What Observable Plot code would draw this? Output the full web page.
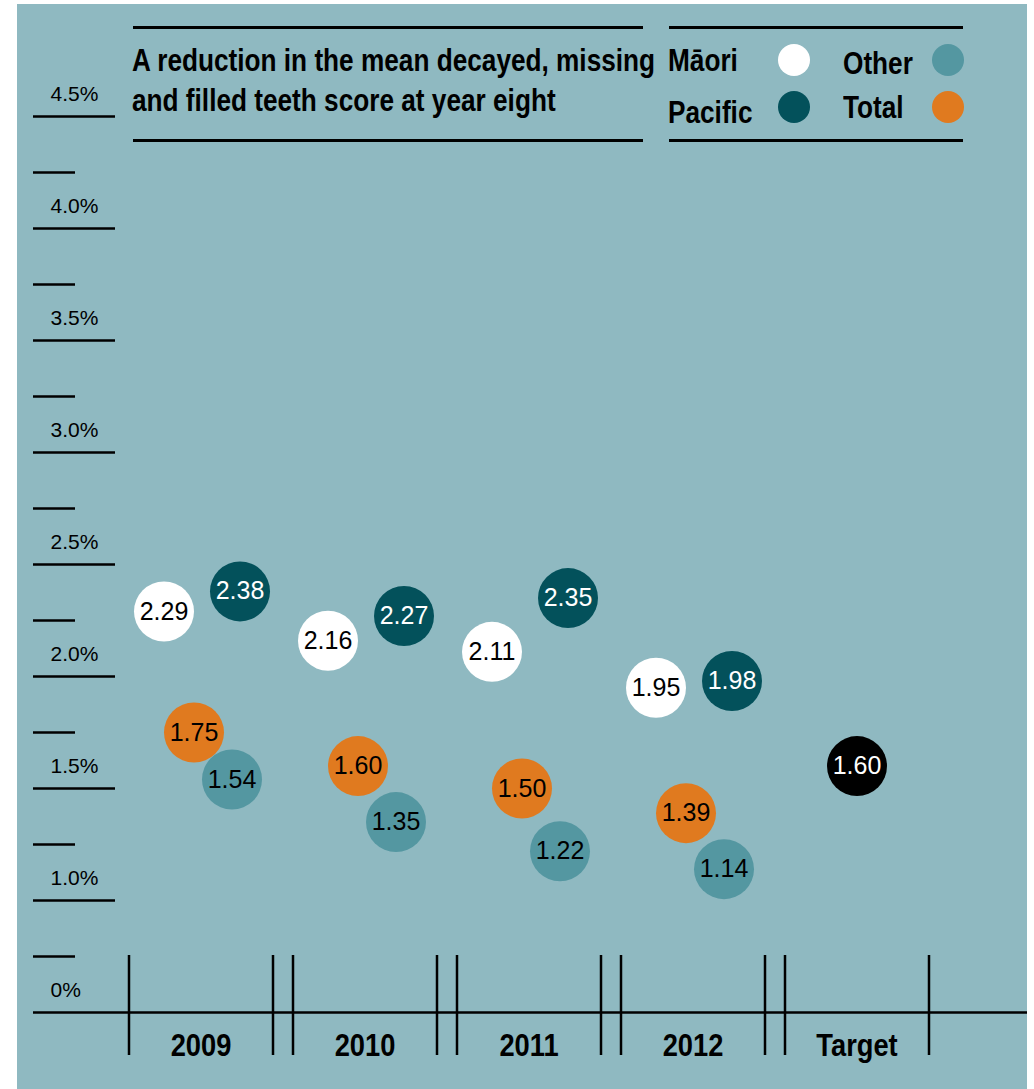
<!DOCTYPE html>
<html>
<head>
<meta charset="utf-8">
<script src="https://cdn.jsdelivr.net/npm/d3@7"></script>
<script src="https://cdn.jsdelivr.net/npm/@observablehq/plot@0.6"></script>
<style>
  html, body { margin: 0; padding: 0; background: #ffffff; }
  #panel { position: absolute; left: 17px; top: 4px; width: 1010px; height: 1085px; background: #8fb9c1; overflow: hidden;
           font-family: "Liberation Sans", Arial, sans-serif; }
  #chart { position: absolute; left: 0; top: 0; }
  .rule { position: absolute; height: 3px; background: #000; }
  #title { position: absolute; left: 115px; top: 37px; font-size: 31px; font-weight: bold; line-height: 40px; color: #000;
           white-space: nowrap; transform: scaleX(0.845); transform-origin: left top; }
  .lg { position: absolute; font-size: 31px; font-weight: bold; color: #000; line-height: 30px; white-space: nowrap;
        transform: scaleX(0.845); transform-origin: left top; }
  .ld { position: absolute; width: 32px; height: 32px; border-radius: 50%; }
</style>
</head>
<body>
<div id="panel">
  <div id="chart"></div>
  <div class="rule" style="left:116px; top:22px; width:510px;"></div>
  <div class="rule" style="left:116px; top:135px; width:510px;"></div>
  <div id="title">A reduction in the mean decayed, missing<br>and filled teeth score at year eight</div>
  <div class="rule" style="left:652px; top:22px; width:294px;"></div>
  <div class="rule" style="left:652px; top:135px; width:294px;"></div>
  <div id="legend"></div>
</div>
<script>
// ---- data ----
const periods = ["2009", "2010", "2011", "2012"];
const categories = ["2009", "2010", "2011", "2012", "Target"];
const maori   = [2.29, 2.16, 2.11, 1.95];
const pacific = [2.38, 2.27, 2.35, 1.98];
const other   = [1.54, 1.35, 1.22, 1.14];
const total   = [1.75, 1.60, 1.50, 1.39];
const targetValue = [1.60];
const yTickValues = [4.5, 4.0, 3.5, 3.0, 2.5, 2.0, 1.5, 1.0, 0.5];
const yTickLabels = ["4.5%", "4.0%", "3.5%", "3.0%", "2.5%", "2.0%", "1.5%", "1.0%", "0%"];
const seriesNames = ["Māori", "Pacific", "Other", "Total"];

// ---- styles ----
const FONT = '"Liberation Sans", Arial, sans-serif';
const seriesStyle = {
  "Māori":   {fill: "#ffffff", text: "#000000", dx: -37},
  "Pacific": {fill: "#03515b", text: "#ffffff", dx: 39},
  "Other":   {fill: "#5497a1", text: "#000000", dx: 31},
  "Total":   {fill: "#e07a1f", text: "#000000", dx: -7}
};
const seriesValues = {"Māori": maori, "Pacific": pacific, "Other": other, "Total": total};

const rows = periods.flatMap((p, i) => seriesNames.map(s => ({period: p, series: s, value: seriesValues[s][i]})));
const targetRows = targetValue.map(v => ({period: "Target", series: "Target", value: v}));

const W = 1010, H = 1085;
const R = 30;

const seriesMarks = seriesNames.flatMap(s => {
  const st = seriesStyle[s];
  const data = rows.filter(d => d.series === s);
  return [
    Plot.dot(data, {x: "period", y: "value", r: R, fill: st.fill, stroke: null, dx: st.dx}),
    Plot.text(data, {x: "period", y: "value", text: d => d.value.toFixed(2), fill: st.text, dx: st.dx, fontSize: 25, ariaLabel: "dot-label"})
  ];
});

const minorTicks = yTickValues.slice(1).map(v => v + 0.25);

const chart = Plot.plot({
  width: W,
  height: H,
  marginLeft: 110,
  marginRight: 97,
  marginTop: 0,
  marginBottom: 77,
  style: {fontFamily: FONT, background: "transparent", color: "#000", overflow: "visible"},
  x: {type: "band", domain: categories, paddingInner: 0.127, paddingOuter: 0, align: 0.5},
  y: {domain: [0.5, 5.0], axis: null},
  marks: [
    Plot.ruleY(yTickValues.slice(0, -1), {stroke: "#000", strokeWidth: 2.7, insetLeft: -94, insetRight: 815}),
    Plot.ruleY(minorTicks, {stroke: "#000", strokeWidth: 2.7, insetLeft: -94, insetRight: 855}),
    Plot.ruleY([0.5], {stroke: "#000", strokeWidth: 2.7, insetLeft: -94, insetRight: -97}),
    Plot.text(yTickValues, {y: d => d, text: (d, i) => yTickLabels[i], frameAnchor: "left", dx: -77, dy: -22, textAnchor: "start", fontSize: 21, fill: "#000"}),
    Plot.ruleX(categories, {x: d => d, dx: -72, stroke: "#000", strokeWidth: 2.5, insetTop: 951, insetBottom: -43}),
    Plot.ruleX(categories, {x: d => d, dx: 72, stroke: "#000", strokeWidth: 2.5, insetTop: 951, insetBottom: -43}),
    Plot.axisX({tickSize: 0, tickPadding: 21, fontSize: 31, fontWeight: "bold", label: null}),
    ...seriesMarks,
    Plot.dot(targetRows, {x: "period", y: "value", r: R, fill: "#000000"}),
    Plot.text(targetRows, {x: "period", y: "value", text: d => d.value.toFixed(2), fill: "#ffffff", fontSize: 25, ariaLabel: "dot-label"})
  ]
});

// condensed look: horizontally squeeze selected labels about their anchor
function condense(selection, s) {
  selection.each(function () {
    const t = d3.select(this);
    const tr = t.attr("transform");
    if (tr) {
      t.attr("transform", tr + ` scale(${s},1)`);
    } else {
      const x = +t.attr("x") || 0, y = +t.attr("y") || 0;
      t.attr("x", null).attr("y", null).attr("transform", `translate(${x},${y}) scale(${s},1)`);
    }
  });
}
condense(d3.select(chart).selectAll('g[aria-label="dot-label"] text'), 0.88);
condense(d3.select(chart).selectAll('g[aria-label="x-axis tick label"] text'), 0.88);

document.getElementById("chart").appendChild(chart);

// ---- legend ----
const legendLayout = [
  {name: "Māori",   tx: 651, ty: 42, dx: 761, dy: 40},
  {name: "Pacific", tx: 651, ty: 94, dx: 761, dy: 87},
  {name: "Other",   tx: 826, ty: 45, dx: 915, dy: 40},
  {name: "Total",   tx: 826, ty: 89, dx: 915, dy: 87}
];
const legend = document.getElementById("legend");
legendLayout.forEach(l => {
  const t = document.createElement("div");
  t.className = "lg";
  t.style.left = l.tx + "px";
  t.style.top = l.ty + "px";
  t.textContent = l.name;
  legend.appendChild(t);
  const d = document.createElement("div");
  d.className = "ld";
  d.style.left = l.dx + "px";
  d.style.top = l.dy + "px";
  d.style.background = seriesStyle[l.name].fill;
  legend.appendChild(d);
});
</script>
</body>
</html>
